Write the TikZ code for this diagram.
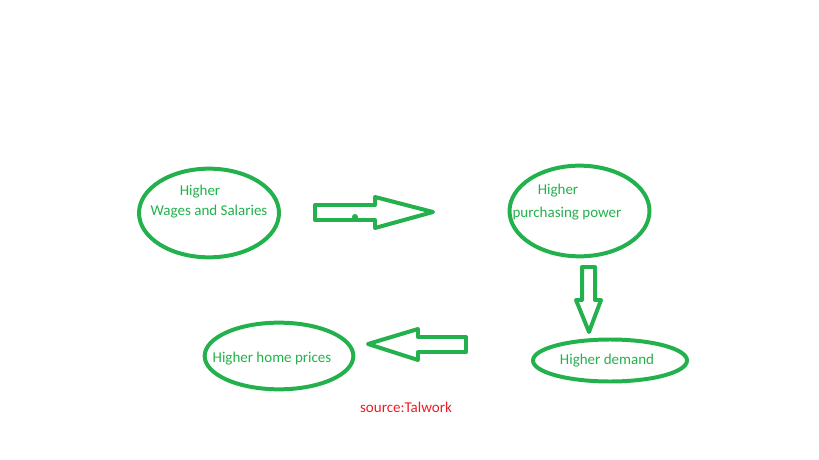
\documentclass[tikz,border=0pt]{standalone}
\usepackage{fontspec}
\setmainfont{Carlito}
\usepackage{tikz}
\usetikzlibrary{shapes.geometric}
\definecolor{paintgreen}{HTML}{22B14C}
\definecolor{paintred}{HTML}{ED1C24}

\begin{document}
\begin{tikzpicture}[x=0.03cm,y=-0.03cm,
  bubble/.style={ellipse,draw=paintgreen,line width=3.4pt,inner sep=0pt},
  blockarrow/.style={draw=paintgreen,line width=3.4pt,line join=round},
  txt/.style={text=paintgreen,font=\fontsize{12.8}{15}\selectfont,inner sep=0pt},
  every node/.style={anchor=center}]
\useasboundingbox (0,0) rectangle (819,460);
% the four bubbles
\node[bubble,minimum width=4.2cm,minimum height=2.66cm] (wages) at (209,213) {};
\node[bubble,minimum width=4.2cm,minimum height=2.72cm] (power) at (579.5,211) {};
\node[bubble,minimum width=4.62cm,minimum height=1.26cm] (demand) at (610,360.5) {};
\node[bubble,minimum width=4.46cm,minimum height=2.0cm] (prices) at (279,356) {};
% texts
\node[txt] (wagesA) at (200,192) {Higher};
\node[txt] (wagesB) at (209,212) {Wages and Salaries};
\node[txt] (powerA) at (558,191) {Higher};
\node[txt] (powerB) at (567,214) {purchasing power};
\node[txt] (demandA) at (607,361) {Higher demand};
\node[txt] (pricesA) at (272,359) {Higher home prices};
\node[txt,text=paintred] (source) at (406,407) {source:Talwork};
% block arrows
\draw[blockarrow] (315,205) -- (375,205) -- (375,197) -- (433,212)
  -- (375,228) -- (375,220) -- (315,220) -- cycle;
\fill[paintgreen] (355,217) circle (3);
\draw[blockarrow] (582,267) -- (595,267) -- (595,300) -- (601,300)
  -- (589,332) -- (576,300) -- (582,300) -- cycle;
\draw[blockarrow] (466,337) -- (418,337) -- (418,329) -- (368,344)
  -- (418,360) -- (418,352) -- (466,352) -- cycle;
\end{tikzpicture}
\end{document}
